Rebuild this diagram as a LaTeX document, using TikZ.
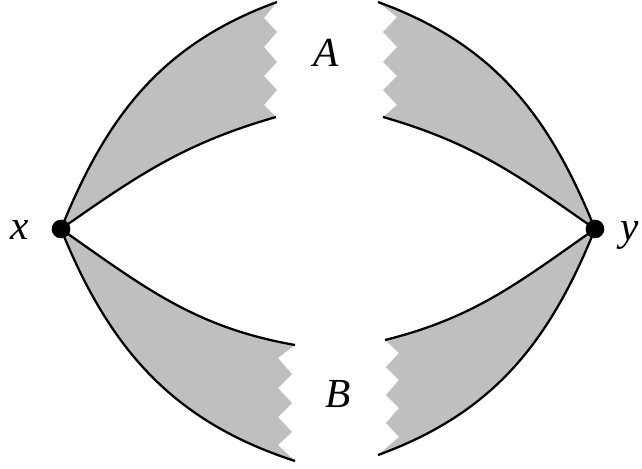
\documentclass[tikz,border=0pt]{standalone}
\usepackage{fontspec}
\setmainfont{Liberation Serif}
\tikzset{
  region/.style={fill=black!25, draw=none},
  edge/.style={draw=black, line width=1.7pt},
  dot/.style={circle, fill=black, inner sep=0pt, minimum size=14pt},
  lbl/.style={inner sep=0pt, font=\fontsize{31}{36}\selectfont\itshape}
}
\begin{document}
\begin{tikzpicture}[x=0.75pt,y=0.75pt]
\useasboundingbox (0,0) rectangle (642,-468);
\coordinate (X) at (61,-229);
\coordinate (Y) at (595,-229);
% upper left
\coordinate (ulo) at (277,-2);
\coordinate (uli) at (276,-117);
\fill[region] (X) to[out=68,in=-160] (ulo) -- (264,-18) -- (277,-32) -- (264,-47) -- (277,-62) -- (264,-76) -- (277,-90) -- (264,-105) -- (uli) to[out=-164,in=35] (X) -- cycle;
\draw[edge] (X) to[out=68,in=-160] (ulo);
\draw[edge] (X) to[out=35,in=-164] (uli);
% upper right
\coordinate (uro) at (378,-2);
\coordinate (uri) at (383,-117);
\fill[region] (uro) -- (397,-17) -- (383,-32) -- (397,-47) -- (383,-62) -- (397,-76) -- (383,-90) -- (397,-105) -- (uri) to[out=-16,in=145] (Y) to[out=112,in=-20] (uro) -- cycle;
\draw[edge] (uro) to[out=-20,in=112] (Y);
\draw[edge] (uri) to[out=-16,in=145] (Y);
% lower left
\coordinate (lli) at (295,-345);
\coordinate (llo) at (295,-461);
\fill[region] (X) to[out=-35,in=170] (lli) -- (278,-358) -- (292,-374) -- (278,-388) -- (292,-403) -- (278,-417) -- (292,-432) -- (278,-445) -- (llo) to[out=162,in=-68] (X) -- cycle;
\draw[edge] (X) to[out=-35,in=170] (lli);
\draw[edge] (X) to[out=-68,in=162] (llo);
% lower right
\coordinate (lri) at (385,-340);
\coordinate (lro) at (378,-455);
\fill[region] (lri) -- (399,-353) -- (386,-367) -- (399,-380) -- (386,-395) -- (399,-408) -- (386,-423) -- (399,-437) -- (lro) to[out=20,in=-112] (Y) to[out=-145,in=14] (lri) -- cycle;
\draw[edge] (lri) to[out=14,in=-145] (Y);
\draw[edge] (lro) to[out=20,in=-112] (Y);
% dots and labels
\node[dot] (x) at (X) {};
\node[dot] (y) at (Y) {};
\node[lbl] (xl) at (20,-230) {x};
\node[lbl] (yl) at (630,-235) {y};
\node[lbl] (A) at (326,-53) {A};
\node[lbl] (B) at (338,-394) {B};
\end{tikzpicture}
\end{document}
